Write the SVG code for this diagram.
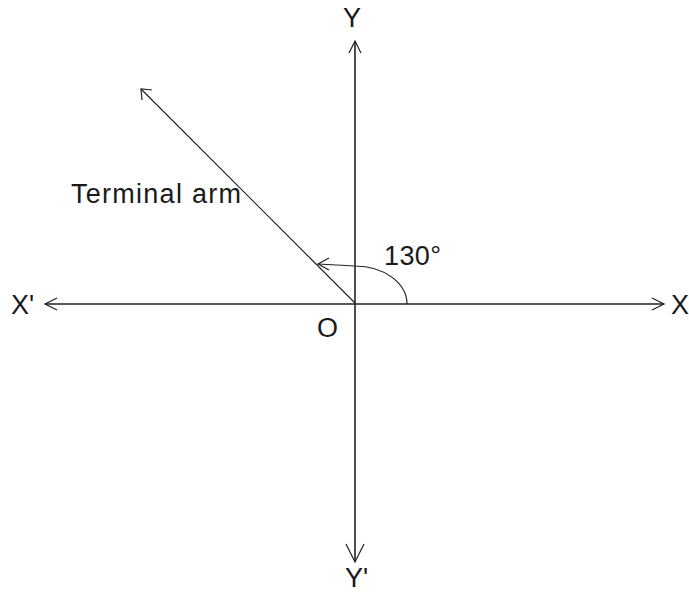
<svg xmlns="http://www.w3.org/2000/svg" width="689" height="594" viewBox="0 0 689 594">
<style>
.ax{stroke:#222;stroke-width:1.6;fill:none}
.thin{stroke:#222;stroke-width:1.2;fill:none}
.lbl{font-family:"Liberation Sans","Open Sans",Arial,sans-serif;font-size:27px;fill:#1a1a1a}
</style>
<rect width="689" height="594" fill="#fff"/>
<g id="connectors">
<path class="ax" d="M355,41 V562"/>
<path class="ax" d="M45,304 H664"/>
<path class="thin" d="M141,89 L355,303"/>
<path class="thin" d="M407,304 A52,38 0 0 0 355,266 L318,264"/>
<path class="thin" d="M349,53 L355,41 L361,53"/>
<path class="thin" d="M346,544 L355,562 L364,544"/>
<path class="thin" d="M57,298 L45,304 L57,310"/>
<path class="thin" d="M652,298 L664,304 L652,310"/>
<path class="thin" d="M152,90 L141,89 L142,100"/>
<path class="thin" d="M329,258 L318,264 L329,270"/>
</g>
<g id="label-Y"><text class="lbl" x="343" y="27">Y</text></g>
<g id="label-Yp"><text class="lbl" x="345" y="587">Y'</text></g>
<g id="label-Xp"><text class="lbl" x="11" y="314">X'</text></g>
<g id="label-X"><text class="lbl" x="671" y="314">X</text></g>
<g id="label-O"><text class="lbl" x="317" y="337">O</text></g>
<g id="label-angle"><text class="lbl" x="384" y="265" textLength="57">130°</text></g>
<g id="label-arm"><text class="lbl" x="71" y="203" textLength="170">Terminal arm</text></g>
</svg>
